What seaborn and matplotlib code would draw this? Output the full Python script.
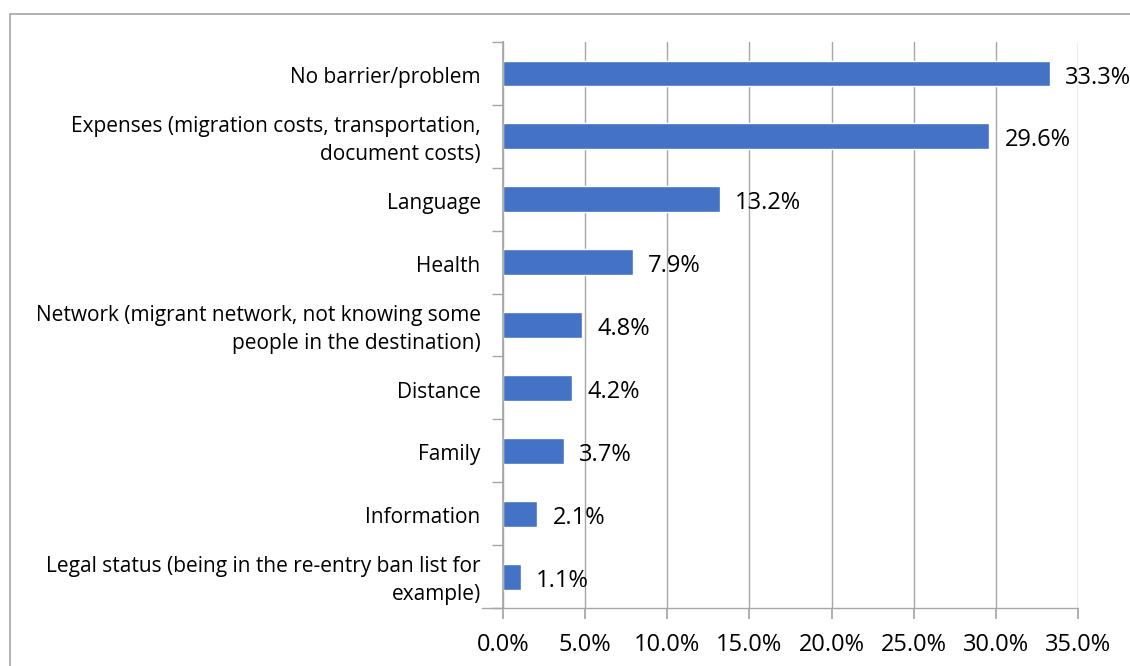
import matplotlib
matplotlib.use("Agg")
import matplotlib.pyplot as plt
import matplotlib.transforms as mtransforms
import seaborn as sns
import pandas as pd
import numpy as np
from matplotlib.patches import Rectangle
from matplotlib.ticker import FuncFormatter, FixedLocator

categories = [
    "No barrier/problem",
    "Expenses (migration costs, transportation,\ndocument costs)",
    "Language",
    "Health",
    "Network (migrant network, not knowing some\npeople in the destination)",
    "Distance",
    "Family",
    "Information",
    "Legal status (being in the re-entry ban list for\nexample)",
]
shares = [33.3, 29.6, 13.2, 7.9, 4.8, 4.2, 3.7, 2.1, 1.1]

df = pd.DataFrame({"barrier": categories, "share": shares})

sns.set_theme(style="white")
plt.rcParams["font.family"] = ["Open Sans", "DejaVu Sans"]

fig = plt.figure(figsize=(11.3, 6.66), dpi=100)
ax = fig.add_axes([0.445, 0.087, 0.509, 0.85])

sns.barplot(data=df, y="barrier", x="share", color="#4472C4", saturation=1,
            width=0.41, orient="h", ax=ax)

ax.set_xlim(0, 35)
ax.set_ylim(len(categories) - 0.5, -0.5)
ax.set_xticks(np.arange(0, 36, 5))
ax.xaxis.set_major_formatter(FuncFormatter(lambda v, p: f"{v:.1f}%"))
ax.grid(axis="x", color="#A6A6A6", linewidth=1)
ax.set_axisbelow(True)
ax.set_xlabel("")
ax.set_ylabel("")

for s in ["top", "right", "bottom"]:
    ax.spines[s].set_visible(False)
ax.spines["left"].set_color("#A6A6A6")
ax.axhline(len(categories) - 0.5, xmin=-0.037, xmax=1, color="#A6A6A6",
           linewidth=1, clip_on=False)

ax.tick_params(axis="x", bottom=True, length=8, color="#A6A6A6",
               labelsize=17, pad=10, labelcolor="black")
ax.tick_params(axis="y", which="major", left=False, labelsize=15,
               pad=10, labelcolor="black")
ax.yaxis.set_minor_locator(FixedLocator(np.arange(-0.5, len(categories), 1)))
ax.tick_params(axis="y", which="minor", left=True, length=8, color="#A6A6A6")

# nudge category labels down a little to match the reference baseline
shift = mtransforms.ScaledTranslation(0, -3 / 72, fig.dpi_scale_trans)
for lab in ax.get_yticklabels():
    lab.set_horizontalalignment("right")
    lab.set_verticalalignment("center")
    lab.set_linespacing(1.45)
    lab.set_transform(lab.get_transform() + shift)

anns = ax.bar_label(ax.containers[0], labels=[f"{v:.1f}%" for v in shares],
                    padding=11, fontsize=17, color="black")
for a in anns:
    a.xyann = (11, -3)

fig.add_artist(Rectangle((10 / 1130, -0.1), 1.2, 1 - 14 / 666 + 0.1,
                         transform=fig.transFigure, fill=False,
                         edgecolor="#A6A6A6", linewidth=1.2))

fig.savefig("out.png", dpi=100, facecolor="white")
